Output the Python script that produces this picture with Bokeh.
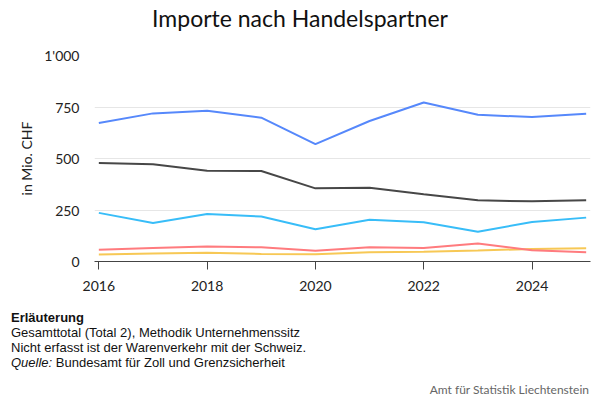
from bokeh.plotting import figure
from bokeh.models import Range1d, FixedTicker, CustomJSTickFormatter, Div
from bokeh.layouts import column
from bokeh.embed import file_html
from bokeh.resources import INLINE

years = [2016, 2017, 2018, 2019, 2020, 2021, 2022, 2023, 2024, 2025]
s_blue = [672, 719, 732, 698, 570, 682, 772, 712, 701, 717]
s_dark = [478, 472, 441, 439, 355, 358, 326, 297, 292, 297]
s_sky = [236, 187, 231, 218, 157, 203, 190, 144, 192, 213]
s_red = [57, 66, 73, 69, 52, 69, 65, 87, 55, 45]
s_yellow = [34, 39, 42, 37, 35, 45, 47, 53, 61, 64]
series = [s_yellow, s_red, s_sky, s_dark, s_blue]
colors = ["#f7c855", "#ff7b7e", "#38bdf8", "#474747", "#5688fb"]
x_ticks = [2016, 2018, 2020, 2022, 2024]
y_ticks = [0, 250, 500, 750, 1000]

title_text = "Importe nach Handelspartner"
note_head = "Erläuterung"
note_lines = ["Gesamttotal (Total 2), Methodik Unternehmenssitz",
              "Nicht erfasst ist der Warenverkehr mit der Schweiz."]
source_label = "Quelle:"
source_text = "Bundesamt für Zoll und Grenzsicherheit"
credit = "Amt für Statistik Liechtenstein"

W = 600
TOP_H, FIG_H, FOOT_H = 42, 259, 99

title_div = Div(
    text=(f'<div style="box-sizing:border-box;width:{W}px;padding-top:4px;text-align:center;'
          f'font-family:Lato;font-size:23px;line-height:normal;color:#111111;">'
          f'{title_text}</div>'),
    width=W, height=TOP_H, margin=0)

p = figure(width=W, height=FIG_H, output_backend="svg", toolbar_location=None,
           x_range=Range1d(2015.92, 2025.08), y_range=Range1d(0, 1000),
           min_border_left=94, min_border_right=10, min_border_top=13,
           min_border_bottom=40, margin=0)
p.outline_line_color = None
p.background_fill_color = "white"

for ys, c in zip(series, colors):
    p.line(years, ys, line_color=c, line_width=2)

p.xaxis.ticker = FixedTicker(ticks=x_ticks)
p.yaxis.ticker = FixedTicker(ticks=y_ticks)
p.xaxis.minor_tick_line_color = None
p.yaxis.minor_tick_line_color = None
p.xaxis.axis_line_color = "#444444"
p.xaxis.major_tick_line_color = "#444444"
p.xaxis.major_tick_out = 8
p.xaxis.major_tick_in = 0
p.xaxis.major_label_standoff = 11
p.xaxis.major_label_text_font = "Lato"
p.xaxis.major_label_text_font_size = "14px"
p.xaxis.major_label_text_color = "#222222"
p.yaxis.axis_line_color = None
p.yaxis.major_tick_line_color = None
p.yaxis.major_tick_out = 0
p.yaxis.major_tick_in = 0
p.yaxis.major_label_text_font = "Lato"
p.yaxis.major_label_text_font_size = "14px"
p.yaxis.major_label_text_color = "#222222"
p.yaxis.major_label_standoff = 15
p.yaxis.formatter = CustomJSTickFormatter(code="""
return tick.toFixed(0).replace(/\\B(?=(\\d{3})+(?!\\d))/g, "'");
""")
p.yaxis.axis_label = "in Mio. CHF"
p.yaxis.axis_label_text_font = "Lato"
p.yaxis.axis_label_text_font_style = "normal"
p.yaxis.axis_label_text_font_size = "14px"
p.yaxis.axis_label_text_color = "#222222"
p.yaxis.axis_label_standoff = 6
p.xgrid.grid_line_color = None
p.ygrid.grid_line_color = "#e6e6e6"
p.ygrid.grid_line_width = 1

lines_html = "".join(f"<div>{t}</div>" for t in note_lines)
foot_div = Div(
    text=(f'<div style="box-sizing:border-box;width:{W}px;padding:9px 11px 0 11px;'
          f'font-family:\'Liberation Sans\';font-size:13px;line-height:15px;color:#111111;">'
          f'<div style="font-weight:bold;">{note_head}</div>'
          f'{lines_html}'
          f'<div><i>{source_label}</i> {source_text}</div>'
          f'<div style="margin-top:12px;text-align:right;font-family:Lato;'
          f'font-size:12px;line-height:normal;color:#666666;">{credit}</div>'
          f'</div>'),
    width=W, height=FOOT_H, margin=0)

layout = column(title_div, p, foot_div, spacing=0, margin=0)

open("out.html", "w", encoding="utf-8").write(file_html(layout, INLINE))
